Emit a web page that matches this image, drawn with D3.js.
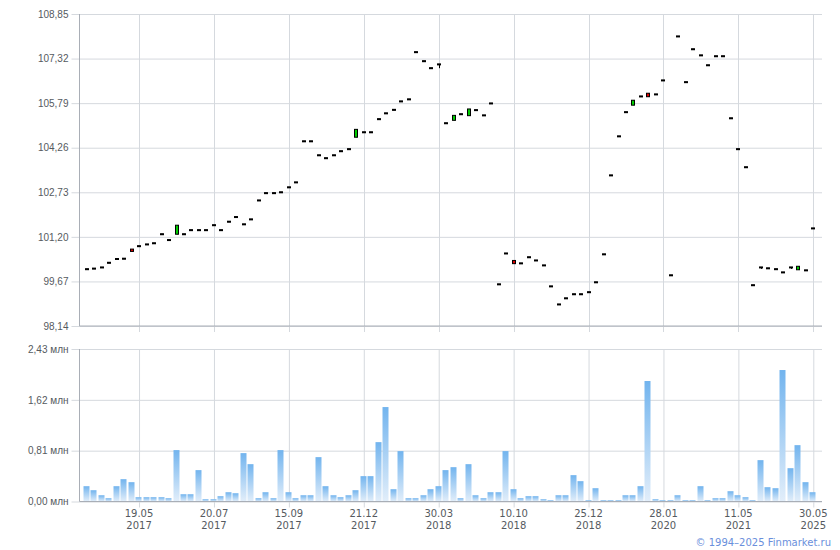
<!DOCTYPE html>
<html>
<head>
<meta charset="utf-8">
<script src="https://cdn.jsdelivr.net/npm/d3@7/dist/d3.min.js"></script>
<style>
  html, body { margin: 0; padding: 0; background: #fff; }
  svg { display: block; font-family: "DejaVu Sans", Verdana, sans-serif; }
</style>
</head>
<body>
<svg id="chart" width="840" height="550"></svg>
<script>
// ---- data ----
const closes = [100.09,100.11,100.15,100.31,100.44,100.45,100.70,100.88,100.94,100.98,
  101.29,101.09,101.60,101.29,101.43,101.43,101.43,101.60,101.43,101.72,
  101.88,101.63,101.80,102.45,102.70,102.70,102.73,102.90,103.07,104.48,
  104.48,104.00,103.90,104.00,104.14,104.21,104.89,104.79,104.79,105.24,
  105.44,105.56,105.85,105.92,107.54,107.23,106.99,107.12,105.10,105.37,
  105.41,105.59,105.55,105.37,105.78,99.57,100.63,100.28,100.29,100.50,
  100.39,100.22,99.50,98.88,99.09,99.23,99.23,99.30,99.64,100.60,
  103.31,104.65,105.48,105.89,106.02,106.01,106.09,106.57,99.88,108.08,
  106.51,107.64,107.43,107.09,107.40,107.40,105.27,104.21,103.59,99.54,
  100.15,100.12,100.09,99.98,100.15,100.19,100.05,101.49];
const opens = [100.09,100.11,100.15,100.31,100.44,100.45,100.78,100.88,100.94,100.98,
  101.29,101.09,101.29,101.29,101.43,101.43,101.43,101.60,101.43,101.72,
  101.88,101.63,101.80,102.45,102.70,102.70,102.73,102.90,103.07,104.48,
  104.48,104.00,103.90,104.00,104.14,104.21,104.62,104.79,104.79,105.24,
  105.44,105.56,105.85,105.92,107.54,107.23,106.99,107.12,105.10,105.20,
  105.41,105.36,105.55,105.37,105.78,99.57,100.63,100.39,100.29,100.50,
  100.39,100.22,99.50,98.88,99.09,99.23,99.23,99.30,99.64,100.60,
  103.31,104.65,105.48,105.72,106.02,106.13,106.09,106.57,99.88,108.08,
  106.51,107.64,107.43,107.09,107.40,107.40,105.27,104.21,103.59,99.54,
  100.15,100.12,100.09,99.98,100.15,100.07,100.05,101.49];
const lows = [100.09,100.11,100.15,100.31,100.44,100.45,100.70,100.88,100.94,100.98,
  101.29,101.09,101.29,101.29,101.43,101.43,101.43,101.60,101.43,101.72,
  101.88,101.63,101.80,102.45,102.70,102.70,102.73,102.90,103.07,104.48,
  104.48,104.00,103.90,104.00,104.14,104.21,104.62,104.79,104.79,105.24,
  105.44,105.56,105.85,105.92,107.54,107.23,106.99,106.99,105.10,105.20,
  105.41,105.36,105.55,105.37,105.78,99.57,100.63,100.28,100.29,100.50,
  100.39,100.22,99.50,98.88,99.09,99.23,99.23,99.30,99.64,100.60,
  103.31,104.65,105.48,105.72,106.02,106.01,106.09,106.57,99.88,108.08,
  106.51,107.64,107.43,107.09,107.40,107.40,105.27,104.21,103.59,99.54,
  100.10,100.12,100.09,99.98,100.10,100.07,100.05,101.49];
const volumes = [0.244,0.18,0.10,0.053,0.244,0.356,0.308,0.069,0.069,0.069,
  0.069,0.053,0.819,0.116,0.116,0.50,0.037,0.037,0.085,0.148,
  0.132,0.771,0.595,0.053,0.148,0.053,0.819,0.148,0.053,0.10,
  0.10,0.707,0.244,0.10,0.069,0.10,0.18,0.404,0.404,0.946,
  1.505,0.196,0.803,0.053,0.053,0.10,0.196,0.244,0.50,0.547,
  0.053,0.595,0.10,0.053,0.148,0.148,0.803,0.196,0.053,0.085,
  0.085,0.037,0.021,0.10,0.10,0.42,0.324,0.021,0.212,0.021,
  0.021,0.021,0.10,0.10,0.244,1.92,0.037,0.021,0.021,0.10,
  0.021,0.021,0.244,0.021,0.053,0.053,0.164,0.10,0.069,0.021,
  0.659,0.228,0.212,2.095,0.531,0.898,0.308,0.148];
const tickIndex = [7,17,27,37,47,57,67,77,87,97];
const tickDays = ["19.05","20.07","15.09","21.12","30.03","10.10","25.12","28.01","11.05","30.05"];
const tickYears = ["2017","2017","2017","2017","2018","2018","2018","2020","2021","2025"];
const priceTicks = [98.14,99.67,101.20,102.73,104.26,105.79,107.32,108.85];
const volTicks = [0,0.81,1.62,2.43];
const copyright = "© 1994–2025 Finmarket.ru";

// ---- layout ----
const svg = d3.select("#chart");
const L = 79.5, R = 822;
const pTop = 14, pBot = 326;
const vTop = 349, vBot = 501.5;
const gridCol = "#d5d9de", axisCol = "#a9aeb6", textCol = "#555a60";
const idx = d3.range(closes.length);

const x = d3.scalePoint().domain(idx).range([86.6, 813.3]);
const y = d3.scaleLinear().domain([98.14, 108.85]).range([pBot, pTop]);
const yv = d3.scaleLinear().domain([0, 2.43]).range([vBot, vTop]);

const fmt = v => v.toFixed(2).replace(".", ",");

// gradient for volume
const defs = svg.append("defs");
const grad = defs.append("linearGradient").attr("id", "vg")
  .attr("x1", 0).attr("y1", 0).attr("x2", 0).attr("y2", 1);
grad.append("stop").attr("offset", "0%").attr("stop-color", "#72b4ee");
grad.append("stop").attr("offset", "100%").attr("stop-color", "#e2eefa");

// ---- price panel ----
const gP = svg.append("g");
// horizontal grid + ticks
const yAxis = d3.axisLeft(y).tickValues(priceTicks).tickFormat(fmt)
  .tickSize(-(R - L)).tickPadding(3);
const yAx = gP.append("g").attr("transform", `translate(${L},0)`).call(yAxis);
yAx.select(".domain").remove();
yAx.selectAll(".tick line").attr("stroke", gridCol).attr("x1", -8);
yAx.selectAll(".tick text").attr("fill", textCol).attr("font-size", 10).attr("x", -11);

// vertical grid (price)
const xAxisP = d3.axisBottom(x).tickValues(tickIndex).tickFormat("")
  .tickSize(-(pBot - pTop));
const xAxP = gP.append("g").attr("transform", `translate(0,${pBot})`).call(xAxisP);
xAxP.select(".domain").remove();
xAxP.selectAll(".tick line").attr("stroke", gridCol).attr("y2", -(pBot - pTop)).attr("y1", 6).attr("shape-rendering", "crispEdges");
// axes lines
gP.append("line").attr("x1", L).attr("x2", L).attr("y1", pTop).attr("y2", pBot).attr("stroke", axisCol);
gP.append("line").attr("x1", L).attr("x2", R).attr("y1", pBot).attr("y2", pBot).attr("stroke", axisCol);

// candles
const cg = gP.append("g");
cg.selectAll("line.wick").data(idx).join("line")
  .attr("class", "wick")
  .attr("x1", i => Math.round(x(i)) + 0.5).attr("x2", i => Math.round(x(i)) + 0.5)
  .attr("y1", i => y(Math.max(opens[i], closes[i])))
  .attr("y2", i => y(lows[i]))
  .attr("stroke", "#000").attr("stroke-width", 1);
cg.selectAll("rect.body").data(idx).join("rect")
  .attr("class", "body")
  .attr("x", i => Math.round(x(i)) - 1.5)
  .attr("width", 3)
  .attr("y", i => {
    const hi = y(Math.max(opens[i], closes[i])), lo = y(Math.min(opens[i], closes[i]));
    return Math.abs(lo - hi) < 1 ? (hi + lo) / 2 - 0.5 : hi;
  })
  .attr("height", i => {
    const h = Math.abs(y(opens[i]) - y(closes[i]));
    return h < 1 ? 1 : h;
  })
  .attr("fill", i => closes[i] > opens[i] ? "#00cc00" : (closes[i] < opens[i] ? "#dd0000" : "#000"))
  .attr("stroke", "#000").attr("stroke-width", 1);

// ---- volume panel ----
const gV = svg.append("g");
const yvAxis = d3.axisLeft(yv).tickValues(volTicks).tickFormat(v => fmt(v) + " млн")
  .tickSize(-(R - L)).tickPadding(3);
const yvAx = gV.append("g").attr("transform", `translate(${L},0)`).call(yvAxis);
yvAx.select(".domain").remove();
yvAx.selectAll(".tick line").attr("stroke", gridCol).attr("x1", -8);
yvAx.selectAll(".tick text").attr("fill", textCol).attr("font-size", 10).attr("x", -11);

const xAxisV = d3.axisBottom(x).tickValues(tickIndex).tickFormat("")
  .tickSize(-(vBot - vTop));
const xAxV = gV.append("g").attr("transform", `translate(0,${vBot})`).call(xAxisV);
xAxV.select(".domain").remove();
xAxV.selectAll(".tick line").attr("stroke", gridCol).attr("y2", -(vBot - vTop)).attr("y1", 6);

gV.selectAll("rect.vol").data(idx).join("rect")
  .attr("class", "vol")
  .attr("x", i => Math.round(x(i)) - 3.5)
  .attr("width", 6)
  .attr("y", i => yv(volumes[i]))
  .attr("height", i => vBot - yv(volumes[i]))
  .attr("fill", "url(#vg)");

gV.append("line").attr("x1", L).attr("x2", L).attr("y1", vTop).attr("y2", vBot).attr("stroke", axisCol);
gV.append("line").attr("x1", L).attr("x2", R).attr("y1", vBot).attr("y2", vBot).attr("stroke", axisCol);

// date labels
const lab = svg.append("g").attr("fill", textCol).attr("font-size", 10).attr("text-anchor", "middle");
lab.selectAll("text.d").data(tickIndex).join("text").attr("class", "d")
  .attr("x", i => x(i)).attr("y", 517).text((d, k) => tickDays[k]);
lab.selectAll("text.yr").data(tickIndex).join("text").attr("class", "yr")
  .attr("x", i => x(i)).attr("y", 529).text((d, k) => tickYears[k]);

svg.append("text").attr("x", 831).attr("y", 546).attr("text-anchor", "end")
  .attr("font-size", 10).attr("fill", "#6a8fdc").text(copyright);
</script>
</body>
</html>
